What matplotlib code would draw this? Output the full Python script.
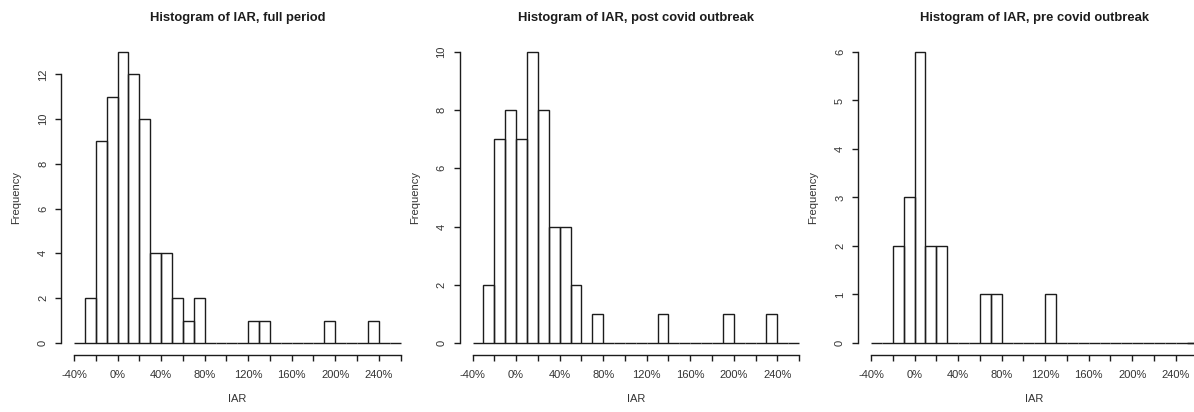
import numpy as np
from matplotlib import pyplot as plt

# histogram breaks, in percent
breaks = np.arange(-40, 261, 10)

full_counts = [0, 2, 9, 11, 13, 12, 10, 4, 4, 2, 1, 2, 0, 0, 0, 0, 1, 1, 0, 0,
               0, 0, 0, 1, 0, 0, 0, 1, 0, 0]
post_counts = [0, 2, 7, 8, 7, 10, 8, 4, 4, 2, 0, 1, 0, 0, 0, 0, 0, 1, 0, 0,
               0, 0, 0, 1, 0, 0, 0, 1, 0, 0]
pre_counts = [0, 0, 2, 3, 6, 2, 2, 0, 0, 0, 1, 1, 0, 0, 0, 0, 1, 0, 0, 0,
              0, 0, 0, 0, 0, 0, 0, 0, 0, 0]

titles = ["Histogram of IAR, full period",
          "Histogram of IAR, post covid outbreak",
          "Histogram of IAR, pre covid outbreak"]
yticks = [np.arange(0, 13, 2), np.arange(0, 11, 2), np.arange(0, 7, 1)]

xticks = np.arange(-40, 261, 20)
xlabels = [f"{t}%" if t % 40 == 0 and t < 260 else "" for t in xticks]


def main():
	plt.rcParams['font.family'] = ['Liberation Sans', 'DejaVu Sans']
	W, H = 1194, 412
	fig = plt.figure(figsize=(W / 100, H / 100), dpi=100)
	ink = '#1c1c1c'

	for i, counts in enumerate([full_counts, post_counts, pre_counts]):
		top = max(counts)
		# plot region: x from -52 to 272, y padded 4% like R
		left = 61 + 398.5 * i
		width = 352.6
		bottom = H - 354.6
		height = 314.3
		ax = fig.add_axes([left / W, bottom / H, width / W, height / H])
		ax.set_xlim(-52, 272)
		ax.set_ylim(-0.04 * top, 1.04 * top)

		ax.bar(breaks[:-1], counts, width=10, align='edge', fill=False,
			edgecolor=ink, linewidth=1.0)

		for s in ['top', 'right']:
			ax.spines[s].set_visible(False)
		ax.spines['left'].set_bounds(0, yticks[i][-1])
		ax.spines['bottom'].set_bounds(-40, 260)
		for s in ['left', 'bottom']:
			ax.spines[s].set_color(ink)
			ax.spines[s].set_linewidth(1.0)

		ax.set_yticks(yticks[i])
		ax.set_yticklabels([str(v) for v in yticks[i]], rotation=90, va='center')
		ax.set_xticks(xticks)
		ax.set_xticklabels(xlabels)
		ax.tick_params(axis='both', colors=ink, labelcolor='#333333', length=4.3,
			width=1.0, labelsize=8)
		ax.tick_params(axis='x', pad=7)
		ax.tick_params(axis='y', pad=5)

		ax.set_title(titles[i], fontsize=9.4, fontweight='bold', color=ink, pad=14)
		ax.set_xlabel("IAR", fontsize=8, color='#333333', labelpad=10)
		ax.set_ylabel("Frequency", fontsize=8, color='#333333', labelpad=12)

	fig.savefig("out.png", dpi=100)


if __name__ == "__main__":
	main()
